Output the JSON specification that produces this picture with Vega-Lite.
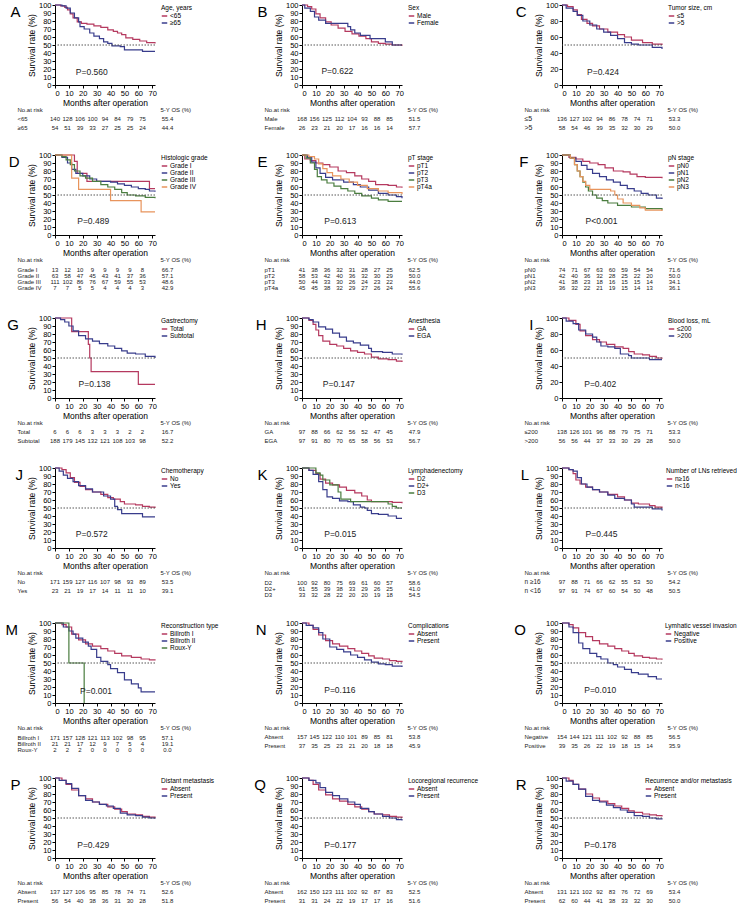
{
"$schema":"https://vega.github.io/schema/vega-lite/v6.json",
"background":"white",
"padding":{"left":5,"top":1,"right":0,"bottom":0},
"columns":3,
"align":"each",
"spacing":{"row":20,"column":35},
"resolve":{"scale":{"color":"independent","x":"independent","y":"independent"},"legend":{"color":"independent"}},
"datasets":{
"hdr":[{"key":"lab","r":0,"val":"No.at risk"},{"key":"os","r":0,"val":"5-Y OS (%)"}],
"curves":[
{"p":"A","g":"<65","t":[0,4,7,9,11,13,16,19,23,28,33,38,42,45,48,51,56,61,66,72],"s":[100,99,97,94,89,84,79,77,76,74,72,69,67,65,63,59,57,55,53,52]},
{"p":"A","g":"≥65","t":[0,5,8,11,14,17,18,21,25,28,32,35,38,41,47,50,62,63,72],"s":[100,99,96,90,84,79,73,70,65,61,58,54,52,49,48,44,44,42,42]},
{"p":"B","g":"Male","t":[0,4,7,10,13,17,21,26,31,36,41,46,50,55,60,65,72],"s":[100,98,95,89,84,79,75,71,67,64,61,58,54,52,51,50,49]},
{"p":"B","g":"Female","t":[0,2,6,9,12,17,26,33,35,38,42,49,55,60,65,72],"s":[100,96,92,85,81,77,77,73,69,65,62,58,58,54,50,50]},
{"p":"C","g":"≤5","t":[0,4,8,11,14,18,22,27,33,40,45,50,58,65,72],"s":[100,98,94,88,82,77,74,70,66,63,60,56,53,51,50]},
{"p":"C","g":">5","t":[0,3,8,11,15,20,25,30,35,40,45,50,55,62,65,72],"s":[100,96,92,87,80,75,70,66,62,58,53,51,50,50,47,45]},
{"p":"D","g":"Grade I","t":[0,14,16,23,68,72],"s":[100,92,77,67,58,58]},
{"p":"D","g":"Grade II","t":[0,5,9,12,15,20,25,30,40,45,50,55,60,65,68,72],"s":[100,97,90,82,77,74,70,67,66,64,62,60,58,57,55,54]},
{"p":"D","g":"Grade III","t":[0,5,8,11,14,18,22,27,33,38,43,48,52,58,65,72],"s":[100,98,94,88,80,74,71,67,63,60,57,53,50,49,47,46]},
{"p":"D","g":"Grade IV","t":[0,12,17,40,62,72],"s":[100,71,57,43,29,29]},
{"p":"E","g":"pT1","t":[0,2,6,10,15,20,26,32,38,43,48,53,62,68,72],"s":[100,95,93,90,88,85,80,78,74,70,67,63,62,60,59]},
{"p":"E","g":"pT2","t":[0,4,7,10,13,17,22,30,37,42,48,55,62,68,72],"s":[100,97,91,84,77,72,69,66,63,60,56,52,50,48,46]},
{"p":"E","g":"pT3","t":[0,3,6,9,11,14,18,23,28,33,38,43,50,55,62,72],"s":[100,96,90,82,73,69,65,61,58,55,52,49,46,44,42,42]},
{"p":"E","g":"pT4a","t":[0,5,9,12,15,18,22,28,34,40,47,55,62,72],"s":[100,98,95,89,83,78,74,70,66,62,58,55,53,51]},
{"p":"F","g":"pN0","t":[0,5,10,15,20,26,31,37,44,49,54,60,72],"s":[100,97,95,92,90,88,84,80,79,76,73,72,71]},
{"p":"F","g":"pN1","t":[0,6,10,14,18,22,27,32,37,42,47,52,57,62,68,72],"s":[100,96,92,87,82,77,73,69,66,62,58,55,52,50,46,45]},
{"p":"F","g":"pN2","t":[0,6,9,11,13,15,17,19,22,25,29,33,40,50,60,72],"s":[100,96,88,80,73,66,60,55,50,46,43,40,37,35,33,31]},
{"p":"F","g":"pN3","t":[0,6,9,11,13,15,17,20,35,38,40,44,50,56,60,72],"s":[100,96,88,80,73,67,62,57,55,50,45,40,37,34,31,30]},
{"p":"G","g":"Total","t":[0,12,24,25,26,60,72],"s":[100,83,67,50,33,17,17]},
{"p":"G","g":"Subtotal","t":[0,4,7,10,13,17,22,27,32,38,43,48,52,58,65,72],"s":[100,98,95,90,84,78,74,71,68,65,62,59,56,55,52,50]},
{"p":"H","g":"GA","t":[0,5,8,10,12,15,20,25,30,35,40,45,50,55,62,68,72],"s":[100,97,92,85,78,71,67,65,62,59,57,55,51,49,48,46,45]},
{"p":"H","g":"EGA","t":[0,5,8,12,17,22,27,32,37,42,48,50,58,65,72],"s":[100,98,95,89,86,81,76,71,69,66,62,58,57,55,54]},
{"p":"I","g":"≤200","t":[0,5,10,13,17,22,27,32,38,44,48,52,58,63,68,72],"s":[100,97,92,84,78,73,70,67,64,62,58,55,54,52,50,49]},
{"p":"I","g":">200","t":[0,3,8,12,17,22,25,28,33,38,42,48,50,60,63,72],"s":[100,96,93,85,80,76,70,65,64,62,55,53,50,50,48,48]},
{"p":"J","g":"No","t":[0,5,8,11,14,18,22,27,33,38,42,47,50,58,63,68,72],"s":[100,98,94,88,82,77,73,70,67,63,61,58,55,54,52,51,50]},
{"p":"J","g":"Yes","t":[0,3,6,9,13,17,22,27,35,40,43,45,48,62,63,72],"s":[100,96,91,87,83,78,74,70,65,61,52,48,43,43,39,39]},
{"p":"K","g":"D2","t":[0,5,10,13,17,22,27,32,38,43,47,50,60,65,72],"s":[100,97,93,86,81,79,76,72,69,65,60,58,58,57,56]},
{"p":"K","g":"D2+","t":[0,5,8,12,15,18,22,27,33,37,42,45,47,50,55,62,68,72],"s":[100,97,92,83,73,64,62,59,58,54,51,50,47,43,42,40,37,37]},
{"p":"K","g":"D3","t":[0,10,13,15,20,26,28,35,58,62,65,68,72],"s":[100,94,91,85,79,70,61,58,58,55,52,50,50]},
{"p":"L","g":"n≥16","t":[0,5,8,10,13,17,22,27,33,40,45,50,55,63,67,72],"s":[100,98,93,85,80,76,73,70,67,64,60,56,55,53,51,50]},
{"p":"L","g":"n<16","t":[0,5,8,11,14,18,22,27,33,38,45,50,52,60,65,72],"s":[100,98,96,88,80,76,73,70,66,62,60,55,51,51,49,47]},
{"p":"M","g":"Billroth I","t":[0,5,8,12,17,22,27,33,38,43,48,55,62,68,72],"s":[100,98,95,86,79,74,71,68,65,62,59,57,55,54,53]},
{"p":"M","g":"Billroth II","t":[0,6,10,13,15,20,24,26,30,33,38,40,45,50,55,60,62,72],"s":[100,95,90,86,81,76,71,67,57,52,48,43,38,29,24,19,14,14]},
{"p":"M","g":"Roux-Y","t":[0,10,21],"s":[100,50,0]},
{"p":"N","g":"Absent","t":[0,5,8,12,17,22,27,33,38,43,48,52,58,63,68,72],"s":[100,97,92,85,78,74,71,68,65,62,59,56,55,53,52,51]},
{"p":"N","g":"Present","t":[0,3,8,12,15,20,25,30,35,40,45,50,55,60,65,72],"s":[100,97,94,88,80,70,67,64,60,57,54,51,49,48,46,45]},
{"p":"O","g":"Negative","t":[0,5,8,12,17,22,27,33,38,43,48,52,58,63,68,72],"s":[100,98,94,88,83,78,74,71,68,65,62,59,57,56,55,54]},
{"p":"O","g":"Positive","t":[0,5,8,12,15,20,25,28,33,37,40,45,50,55,62,68,72],"s":[100,95,88,75,68,62,58,55,50,48,45,42,38,36,33,30,30]},
{"p":"P","g":"Absent","t":[0,5,8,12,17,22,27,32,38,43,48,52,58,63,68,72],"s":[100,97,92,85,78,74,70,67,64,61,58,55,54,52,51,50]},
{"p":"P","g":"Present","t":[0,3,8,12,17,22,27,32,37,42,47,52,58,63,68,72],"s":[100,97,93,87,78,72,70,67,65,62,56,54,53,51,50,49]},
{"p":"Q","g":"Absent","t":[0,5,8,12,17,22,27,33,38,43,48,52,58,63,68,72],"s":[100,97,92,85,79,74,71,67,64,61,58,55,54,52,51,50]},
{"p":"Q","g":"Present","t":[0,5,10,13,17,22,27,33,38,42,48,52,58,63,68,72],"s":[100,97,94,88,82,78,74,70,67,62,58,55,52,50,48,47]},
{"p":"R","g":"Absent","t":[0,5,8,12,17,22,27,33,38,43,48,52,58,63,68,72],"s":[100,97,92,86,80,75,71,68,65,62,59,57,55,54,53,52]},
{"p":"R","g":"Present","t":[0,3,8,12,17,22,27,32,37,42,47,52,58,63,68,72],"s":[100,96,92,86,77,72,70,66,63,60,57,53,52,50,49,48]}
],
"tables":[
{"p":"A","r":1,"lab":"<65","m0":140,"m10":128,"m20":106,"m30":100,"m40":94,"m50":84,"m60":79,"m70":75,"os":"55.4"},
{"p":"A","r":2,"lab":"≥65","m0":54,"m10":51,"m20":39,"m30":33,"m40":27,"m50":25,"m60":25,"m70":24,"os":"44.4"},
{"p":"B","r":1,"lab":"Male","m0":168,"m10":156,"m20":125,"m30":112,"m40":104,"m50":93,"m60":88,"m70":85,"os":"51.5"},
{"p":"B","r":2,"lab":"Female","m0":26,"m10":23,"m20":21,"m30":20,"m40":17,"m50":16,"m60":16,"m70":14,"os":"57.7"},
{"p":"C","r":1,"lab":"≤5","m0":136,"m10":127,"m20":102,"m30":94,"m40":86,"m50":78,"m60":74,"m70":71,"os":"53.3"},
{"p":"C","r":2,"lab":">5","m0":58,"m10":54,"m20":46,"m30":39,"m40":35,"m50":32,"m60":30,"m70":29,"os":"50.0"},
{"p":"D","r":1,"lab":"Grade I","m0":13,"m10":12,"m20":10,"m30":9,"m40":9,"m50":9,"m60":9,"m70":8,"os":"66.7"},
{"p":"D","r":2,"lab":"Grade II","m0":63,"m10":58,"m20":47,"m30":45,"m40":43,"m50":41,"m60":37,"m70":36,"os":"57.1"},
{"p":"D","r":3,"lab":"Grade III","m0":111,"m10":102,"m20":86,"m30":76,"m40":67,"m50":59,"m60":55,"m70":53,"os":"48.6"},
{"p":"D","r":4,"lab":"Grade IV","m0":7,"m10":7,"m20":5,"m30":5,"m40":4,"m50":4,"m60":4,"m70":3,"os":"42.9"},
{"p":"E","r":1,"lab":"pT1","m0":41,"m10":38,"m20":36,"m30":32,"m40":31,"m50":28,"m60":27,"m70":25,"os":"62.5"},
{"p":"E","r":2,"lab":"pT2","m0":58,"m10":53,"m20":42,"m30":40,"m40":36,"m50":32,"m60":30,"m70":29,"os":"50.0"},
{"p":"E","r":3,"lab":"pT3","m0":50,"m10":44,"m20":33,"m30":30,"m40":26,"m50":24,"m60":23,"m70":22,"os":"44.0"},
{"p":"E","r":4,"lab":"pT4a","m0":45,"m10":45,"m20":38,"m30":32,"m40":29,"m50":27,"m60":26,"m70":24,"os":"55.6"},
{"p":"F","r":1,"lab":"pN0","m0":74,"m10":71,"m20":67,"m30":63,"m40":60,"m50":59,"m60":54,"m70":54,"os":"71.6"},
{"p":"F","r":2,"lab":"pN1","m0":42,"m10":40,"m20":36,"m30":32,"m40":28,"m50":25,"m60":22,"m70":20,"os":"50.0"},
{"p":"F","r":3,"lab":"pN2","m0":41,"m10":38,"m20":23,"m30":18,"m40":16,"m50":15,"m60":15,"m70":14,"os":"34.1"},
{"p":"F","r":4,"lab":"pN3","m0":36,"m10":32,"m20":22,"m30":21,"m40":19,"m50":15,"m60":14,"m70":13,"os":"36.1"},
{"p":"G","r":1,"lab":"Total","m0":6,"m10":6,"m20":6,"m30":3,"m40":3,"m50":3,"m60":2,"m70":2,"os":"16.7"},
{"p":"G","r":2,"lab":"Subtotal","m0":188,"m10":179,"m20":145,"m30":132,"m40":121,"m50":108,"m60":103,"m70":98,"os":"52.2"},
{"p":"H","r":1,"lab":"GA","m0":97,"m10":88,"m20":66,"m30":62,"m40":56,"m50":52,"m60":47,"m70":45,"os":"47.9"},
{"p":"H","r":2,"lab":"EGA","m0":97,"m10":91,"m20":80,"m30":70,"m40":65,"m50":58,"m60":56,"m70":53,"os":"56.7"},
{"p":"I","r":1,"lab":"≤200","m0":138,"m10":126,"m20":101,"m30":96,"m40":88,"m50":79,"m60":75,"m70":71,"os":"53.3"},
{"p":"I","r":2,"lab":">200","m0":56,"m10":56,"m20":44,"m30":37,"m40":33,"m50":30,"m60":29,"m70":28,"os":"50.0"},
{"p":"J","r":1,"lab":"No","m0":171,"m10":159,"m20":127,"m30":116,"m40":107,"m50":98,"m60":93,"m70":89,"os":"53.5"},
{"p":"J","r":2,"lab":"Yes","m0":23,"m10":21,"m20":19,"m30":17,"m40":14,"m50":11,"m60":11,"m70":10,"os":"39.1"},
{"p":"K","r":1,"lab":"D2","m0":100,"m10":92,"m20":80,"m30":75,"m40":69,"m50":61,"m60":60,"m70":57,"os":"58.6"},
{"p":"K","r":2,"lab":"D2+","m0":61,"m10":55,"m20":39,"m30":38,"m40":33,"m50":29,"m60":26,"m70":25,"os":"41.0"},
{"p":"K","r":3,"lab":"D3","m0":33,"m10":32,"m20":28,"m30":22,"m40":20,"m50":20,"m60":19,"m70":18,"os":"54.5"},
{"p":"L","r":1,"lab":"n ≥16","m0":97,"m10":88,"m20":71,"m30":66,"m40":62,"m50":55,"m60":53,"m70":50,"os":"54.2"},
{"p":"L","r":2,"lab":"n <16","m0":97,"m10":91,"m20":74,"m30":67,"m40":60,"m50":54,"m60":50,"m70":48,"os":"50.5"},
{"p":"M","r":1,"lab":"Billroth I","m0":171,"m10":157,"m20":128,"m30":121,"m40":113,"m50":102,"m60":98,"m70":95,"os":"57.1"},
{"p":"M","r":2,"lab":"Billroth II","m0":21,"m10":21,"m20":17,"m30":12,"m40":9,"m50":7,"m60":5,"m70":4,"os":"19.1"},
{"p":"M","r":3,"lab":"Roux-Y","m0":2,"m10":2,"m20":2,"m30":0,"m40":0,"m50":0,"m60":0,"m70":0,"os":"0.0"},
{"p":"N","r":1,"lab":"Absent","m0":157,"m10":145,"m20":122,"m30":110,"m40":101,"m50":89,"m60":85,"m70":81,"os":"53.8"},
{"p":"N","r":2,"lab":"Present","m0":37,"m10":35,"m20":25,"m30":23,"m40":21,"m50":20,"m60":18,"m70":18,"os":"45.9"},
{"p":"O","r":1,"lab":"Negative","m0":154,"m10":144,"m20":121,"m30":111,"m40":102,"m50":92,"m60":88,"m70":85,"os":"56.5"},
{"p":"O","r":2,"lab":"Positive","m0":39,"m10":35,"m20":26,"m30":22,"m40":19,"m50":18,"m60":15,"m70":14,"os":"35.9"},
{"p":"P","r":1,"lab":"Absent","m0":137,"m10":127,"m20":106,"m30":95,"m40":85,"m50":78,"m60":74,"m70":71,"os":"52.6"},
{"p":"P","r":2,"lab":"Present","m0":56,"m10":54,"m20":40,"m30":38,"m40":36,"m50":31,"m60":30,"m70":28,"os":"51.8"},
{"p":"Q","r":1,"lab":"Absent","m0":162,"m10":150,"m20":123,"m30":111,"m40":102,"m50":92,"m60":87,"m70":83,"os":"52.5"},
{"p":"Q","r":2,"lab":"Present","m0":31,"m10":31,"m20":24,"m30":22,"m40":19,"m50":17,"m60":17,"m70":16,"os":"51.6"},
{"p":"R","r":1,"lab":"Absent","m0":131,"m10":121,"m20":102,"m30":92,"m40":83,"m50":76,"m60":72,"m70":69,"os":"53.4"},
{"p":"R","r":2,"lab":"Present","m0":62,"m10":60,"m20":44,"m30":41,"m40":38,"m50":33,"m60":32,"m70":30,"os":"50.0"}
]
},
"concat":[
{"spacing":0,"resolve":{"scale":{"color":"independent"},"legend":{"color":"independent"}},"vconcat":[
{"width":100,"height":80,"title":"A","layer":[
{"data":{"name":"curves"},"transform":[{"filter":"datum.p==='A'"},{"flatten":["t","s"]}],"mark":{"type":"line","interpolate":"step-after","strokeWidth":1.2},"encoding":{"x":{"field":"t","type":"quantitative","scale":{"domain":[0,72],"nice":false},"axis":{"tickCount":8,"title":"Months after operation"}},"y":{"field":"s","type":"quantitative","scale":{"domain":[0,100]},"axis":{"tickCount":10,"title":"Survival rate (%)"}},"color":{"field":"g","type":"nominal","scale":{"domain":["<65","≥65"],"range":["#b5395f","#383c8c","#4a7d3f","#e8945c"]},"legend":{"title":"Age, years"}}}},
{"data":{"values":[{}]},"mark":{"type":"rule","strokeDash":[1.5,1.5],"color":"#444","strokeWidth":0.9},"encoding":{"y":{"datum":50,"type":"quantitative"}}},
{"data":{"values":[{"pv":"P=0.560"}]},"mark":{"type":"text","align":"left","fontSize":8.5},"encoding":{"x":{"datum":15,"type":"quantitative"},"y":{"datum":16,"type":"quantitative"},"text":{"field":"pv"}}}
]},
{"width":100,"height":18,"encoding":{"x":{"field":"key","type":"ordinal","scale":{"type":"point","domain":["lab","d1","d2","m0","m10","m20","m30","m40","m50","m60","m70","d3","os"],"range":[-37.5,112.5],"padding":0},"axis":null},"y":{"field":"r","type":"quantitative","scale":{"domain":[0,2],"range":[0,18]},"axis":null},"text":{"field":"val","type":"nominal"}},"layer":[
{"data":{"name":"hdr"},"transform":[{"filter":"datum.key==='lab'"}],"mark":{"type":"text","align":"left","fontSize":6}},
{"data":{"name":"hdr"},"transform":[{"filter":"datum.key==='os'"}],"mark":{"type":"text","align":"left","fontSize":6,"dx":-7}},
{"data":{"name":"tables"},"transform":[{"filter":"datum.p==='A'"},{"fold":["lab"],"as":["key","val"]}],"mark":{"type":"text","align":"left","fontSize":6}},
{"data":{"name":"tables"},"transform":[{"filter":"datum.p==='A'"},{"fold":["m0","m10","m20","m30","m40","m50","m60","m70","os"],"as":["key","val"]}],"mark":{"type":"text","fontSize":6}}
]}
]},
{"spacing":0,"resolve":{"scale":{"color":"independent"},"legend":{"color":"independent"}},"vconcat":[
{"width":100,"height":80,"title":"B","layer":[
{"data":{"name":"curves"},"transform":[{"filter":"datum.p==='B'"},{"flatten":["t","s"]}],"mark":{"type":"line","interpolate":"step-after","strokeWidth":1.2},"encoding":{"x":{"field":"t","type":"quantitative","scale":{"domain":[0,72],"nice":false},"axis":{"tickCount":8,"title":"Months after operation"}},"y":{"field":"s","type":"quantitative","scale":{"domain":[0,100]},"axis":{"tickCount":10,"title":"Survival rate (%)"}},"color":{"field":"g","type":"nominal","scale":{"domain":["Male","Female"],"range":["#b5395f","#383c8c","#4a7d3f","#e8945c"]},"legend":{"title":"Sex"}}}},
{"data":{"values":[{}]},"mark":{"type":"rule","strokeDash":[1.5,1.5],"color":"#444","strokeWidth":0.9},"encoding":{"y":{"datum":50,"type":"quantitative"}}},
{"data":{"values":[{"pv":"P=0.622"}]},"mark":{"type":"text","align":"left","fontSize":8.5},"encoding":{"x":{"datum":14,"type":"quantitative"},"y":{"datum":17,"type":"quantitative"},"text":{"field":"pv"}}}
]},
{"width":100,"height":18,"encoding":{"x":{"field":"key","type":"ordinal","scale":{"type":"point","domain":["lab","d1","d2","m0","m10","m20","m30","m40","m50","m60","m70","d3","os"],"range":[-37.5,112.5],"padding":0},"axis":null},"y":{"field":"r","type":"quantitative","scale":{"domain":[0,2],"range":[0,18]},"axis":null},"text":{"field":"val","type":"nominal"}},"layer":[
{"data":{"name":"hdr"},"transform":[{"filter":"datum.key==='lab'"}],"mark":{"type":"text","align":"left","fontSize":6}},
{"data":{"name":"hdr"},"transform":[{"filter":"datum.key==='os'"}],"mark":{"type":"text","align":"left","fontSize":6,"dx":-7}},
{"data":{"name":"tables"},"transform":[{"filter":"datum.p==='B'"},{"fold":["lab"],"as":["key","val"]}],"mark":{"type":"text","align":"left","fontSize":6}},
{"data":{"name":"tables"},"transform":[{"filter":"datum.p==='B'"},{"fold":["m0","m10","m20","m30","m40","m50","m60","m70","os"],"as":["key","val"]}],"mark":{"type":"text","fontSize":6}}
]}
]},
{"spacing":0,"resolve":{"scale":{"color":"independent"},"legend":{"color":"independent"}},"vconcat":[
{"width":100,"height":80,"title":"C","layer":[
{"data":{"name":"curves"},"transform":[{"filter":"datum.p==='C'"},{"flatten":["t","s"]}],"mark":{"type":"line","interpolate":"step-after","strokeWidth":1.2},"encoding":{"x":{"field":"t","type":"quantitative","scale":{"domain":[0,72],"nice":false},"axis":{"tickCount":8,"title":"Months after operation"}},"y":{"field":"s","type":"quantitative","scale":{"domain":[0,100]},"axis":{"tickCount":5,"title":"Survival rate (%)"}},"color":{"field":"g","type":"nominal","scale":{"domain":["≤5",">5"],"range":["#b5395f","#383c8c","#4a7d3f","#e8945c"]},"legend":{"title":"Tumor size, cm"}}}},
{"data":{"values":[{}]},"mark":{"type":"rule","strokeDash":[1.5,1.5],"color":"#444","strokeWidth":0.9},"encoding":{"y":{"datum":50,"type":"quantitative"}}},
{"data":{"values":[{"pv":"P=0.424"}]},"mark":{"type":"text","align":"left","fontSize":8.5},"encoding":{"x":{"datum":18,"type":"quantitative"},"y":{"datum":16,"type":"quantitative"},"text":{"field":"pv"}}}
]},
{"width":100,"height":18,"encoding":{"x":{"field":"key","type":"ordinal","scale":{"type":"point","domain":["lab","d1","d2","m0","m10","m20","m30","m40","m50","m60","m70","d3","os"],"range":[-37.5,112.5],"padding":0},"axis":null},"y":{"field":"r","type":"quantitative","scale":{"domain":[0,2],"range":[0,18]},"axis":null},"text":{"field":"val","type":"nominal"}},"layer":[
{"data":{"name":"hdr"},"transform":[{"filter":"datum.key==='lab'"}],"mark":{"type":"text","align":"left","fontSize":6}},
{"data":{"name":"hdr"},"transform":[{"filter":"datum.key==='os'"}],"mark":{"type":"text","align":"left","fontSize":6,"dx":-7}},
{"data":{"name":"tables"},"transform":[{"filter":"datum.p==='C'"},{"fold":["lab"],"as":["key","val"]}],"mark":{"type":"text","align":"left","fontSize":7}},
{"data":{"name":"tables"},"transform":[{"filter":"datum.p==='C'"},{"fold":["m0","m10","m20","m30","m40","m50","m60","m70","os"],"as":["key","val"]}],"mark":{"type":"text","fontSize":6}}
]}
]},
{"spacing":0,"resolve":{"scale":{"color":"independent"},"legend":{"color":"independent"}},"vconcat":[
{"width":100,"height":80,"title":"D","layer":[
{"data":{"name":"curves"},"transform":[{"filter":"datum.p==='D'"},{"flatten":["t","s"]}],"mark":{"type":"line","interpolate":"step-after","strokeWidth":1.2},"encoding":{"x":{"field":"t","type":"quantitative","scale":{"domain":[0,72],"nice":false},"axis":{"tickCount":8,"title":"Months after operation"}},"y":{"field":"s","type":"quantitative","scale":{"domain":[0,100]},"axis":{"tickCount":10,"title":"Survival rate (%)"}},"color":{"field":"g","type":"nominal","scale":{"domain":["Grade I","Grade II","Grade III","Grade IV"],"range":["#b5395f","#383c8c","#4a7d3f","#e8945c"]},"legend":{"title":"Histologic grade"}}}},
{"data":{"values":[{}]},"mark":{"type":"rule","strokeDash":[1.5,1.5],"color":"#444","strokeWidth":0.9},"encoding":{"y":{"datum":50,"type":"quantitative"}}},
{"data":{"values":[{"pv":"P=0.489"}]},"mark":{"type":"text","align":"left","fontSize":8.5},"encoding":{"x":{"datum":16,"type":"quantitative"},"y":{"datum":17,"type":"quantitative"},"text":{"field":"pv"}}}
]},
{"width":100,"height":30,"encoding":{"x":{"field":"key","type":"ordinal","scale":{"type":"point","domain":["lab","d1","d2","m0","m10","m20","m30","m40","m50","m60","m70","d3","os"],"range":[-37.5,112.5],"padding":0},"axis":null},"y":{"field":"r","type":"quantitative","scale":{"domain":[0,4],"range":[0,24]},"axis":null},"text":{"field":"val","type":"nominal"}},"layer":[
{"data":{"name":"hdr"},"transform":[{"filter":"datum.key==='lab'"}],"mark":{"type":"text","align":"left","fontSize":6},"encoding":{"y":{"datum":-0.6,"type":"quantitative"}}},
{"data":{"name":"hdr"},"transform":[{"filter":"datum.key==='os'"}],"mark":{"type":"text","align":"left","fontSize":6,"dx":-7},"encoding":{"y":{"datum":-0.6,"type":"quantitative"}}},
{"data":{"name":"tables"},"transform":[{"filter":"datum.p==='D'"},{"fold":["lab"],"as":["key","val"]}],"mark":{"type":"text","align":"left","fontSize":6}},
{"data":{"name":"tables"},"transform":[{"filter":"datum.p==='D'"},{"fold":["m0","m10","m20","m30","m40","m50","m60","m70","os"],"as":["key","val"]}],"mark":{"type":"text","fontSize":6}}
]}
]},
{"spacing":0,"resolve":{"scale":{"color":"independent"},"legend":{"color":"independent"}},"vconcat":[
{"width":100,"height":80,"title":"E","layer":[
{"data":{"name":"curves"},"transform":[{"filter":"datum.p==='E'"},{"flatten":["t","s"]}],"mark":{"type":"line","interpolate":"step-after","strokeWidth":1.2},"encoding":{"x":{"field":"t","type":"quantitative","scale":{"domain":[0,72],"nice":false},"axis":{"tickCount":8,"title":"Months after operation"}},"y":{"field":"s","type":"quantitative","scale":{"domain":[0,100]},"axis":{"tickCount":10,"title":"Survival rate (%)"}},"color":{"field":"g","type":"nominal","scale":{"domain":["pT1","pT2","pT3","pT4a"],"range":["#b5395f","#383c8c","#4a7d3f","#e8945c"]},"legend":{"title":"pT stage"}}}},
{"data":{"values":[{}]},"mark":{"type":"rule","strokeDash":[1.5,1.5],"color":"#444","strokeWidth":0.9},"encoding":{"y":{"datum":50,"type":"quantitative"}}},
{"data":{"values":[{"pv":"P=0.613"}]},"mark":{"type":"text","align":"left","fontSize":8.5},"encoding":{"x":{"datum":16,"type":"quantitative"},"y":{"datum":17,"type":"quantitative"},"text":{"field":"pv"}}}
]},
{"width":100,"height":30,"encoding":{"x":{"field":"key","type":"ordinal","scale":{"type":"point","domain":["lab","d1","d2","m0","m10","m20","m30","m40","m50","m60","m70","d3","os"],"range":[-37.5,112.5],"padding":0},"axis":null},"y":{"field":"r","type":"quantitative","scale":{"domain":[0,4],"range":[0,24]},"axis":null},"text":{"field":"val","type":"nominal"}},"layer":[
{"data":{"name":"hdr"},"transform":[{"filter":"datum.key==='lab'"}],"mark":{"type":"text","align":"left","fontSize":6},"encoding":{"y":{"datum":-0.6,"type":"quantitative"}}},
{"data":{"name":"hdr"},"transform":[{"filter":"datum.key==='os'"}],"mark":{"type":"text","align":"left","fontSize":6,"dx":-7},"encoding":{"y":{"datum":-0.6,"type":"quantitative"}}},
{"data":{"name":"tables"},"transform":[{"filter":"datum.p==='E'"},{"fold":["lab"],"as":["key","val"]}],"mark":{"type":"text","align":"left","fontSize":6}},
{"data":{"name":"tables"},"transform":[{"filter":"datum.p==='E'"},{"fold":["m0","m10","m20","m30","m40","m50","m60","m70","os"],"as":["key","val"]}],"mark":{"type":"text","fontSize":6}}
]}
]},
{"spacing":0,"resolve":{"scale":{"color":"independent"},"legend":{"color":"independent"}},"vconcat":[
{"width":100,"height":80,"title":"F","layer":[
{"data":{"name":"curves"},"transform":[{"filter":"datum.p==='F'"},{"flatten":["t","s"]}],"mark":{"type":"line","interpolate":"step-after","strokeWidth":1.2},"encoding":{"x":{"field":"t","type":"quantitative","scale":{"domain":[0,72],"nice":false},"axis":{"tickCount":8,"title":"Months after operation"}},"y":{"field":"s","type":"quantitative","scale":{"domain":[0,100]},"axis":{"tickCount":10,"title":"Survival rate (%)"}},"color":{"field":"g","type":"nominal","scale":{"domain":["pN0","pN1","pN2","pN3"],"range":["#b5395f","#383c8c","#4a7d3f","#e8945c"]},"legend":{"title":"pN stage"}}}},
{"data":{"values":[{}]},"mark":{"type":"rule","strokeDash":[1.5,1.5],"color":"#444","strokeWidth":0.9},"encoding":{"y":{"datum":50,"type":"quantitative"}}},
{"data":{"values":[{"pv":"P<0.001"}]},"mark":{"type":"text","align":"left","fontSize":8.5},"encoding":{"x":{"datum":17,"type":"quantitative"},"y":{"datum":17,"type":"quantitative"},"text":{"field":"pv"}}}
]},
{"width":100,"height":30,"encoding":{"x":{"field":"key","type":"ordinal","scale":{"type":"point","domain":["lab","d1","d2","m0","m10","m20","m30","m40","m50","m60","m70","d3","os"],"range":[-37.5,112.5],"padding":0},"axis":null},"y":{"field":"r","type":"quantitative","scale":{"domain":[0,4],"range":[0,24]},"axis":null},"text":{"field":"val","type":"nominal"}},"layer":[
{"data":{"name":"hdr"},"transform":[{"filter":"datum.key==='lab'"}],"mark":{"type":"text","align":"left","fontSize":6},"encoding":{"y":{"datum":-0.6,"type":"quantitative"}}},
{"data":{"name":"hdr"},"transform":[{"filter":"datum.key==='os'"}],"mark":{"type":"text","align":"left","fontSize":6,"dx":-7},"encoding":{"y":{"datum":-0.6,"type":"quantitative"}}},
{"data":{"name":"tables"},"transform":[{"filter":"datum.p==='F'"},{"fold":["lab"],"as":["key","val"]}],"mark":{"type":"text","align":"left","fontSize":6}},
{"data":{"name":"tables"},"transform":[{"filter":"datum.p==='F'"},{"fold":["m0","m10","m20","m30","m40","m50","m60","m70","os"],"as":["key","val"]}],"mark":{"type":"text","fontSize":6}}
]}
]},
{"spacing":0,"resolve":{"scale":{"color":"independent"},"legend":{"color":"independent"}},"vconcat":[
{"width":100,"height":80,"title":"G","layer":[
{"data":{"name":"curves"},"transform":[{"filter":"datum.p==='G'"},{"flatten":["t","s"]}],"mark":{"type":"line","interpolate":"step-after","strokeWidth":1.2},"encoding":{"x":{"field":"t","type":"quantitative","scale":{"domain":[0,72],"nice":false},"axis":{"tickCount":8,"title":"Months after operation"}},"y":{"field":"s","type":"quantitative","scale":{"domain":[0,100]},"axis":{"tickCount":10,"title":"Survival rate (%)"}},"color":{"field":"g","type":"nominal","scale":{"domain":["Total","Subtotal"],"range":["#b5395f","#383c8c","#4a7d3f","#e8945c"]},"legend":{"title":"Gastrectomy"}}}},
{"data":{"values":[{}]},"mark":{"type":"rule","strokeDash":[1.5,1.5],"color":"#444","strokeWidth":0.9},"encoding":{"y":{"datum":50,"type":"quantitative"}}},
{"data":{"values":[{"pv":"P=0.138"}]},"mark":{"type":"text","align":"left","fontSize":8.5},"encoding":{"x":{"datum":17,"type":"quantitative"},"y":{"datum":17,"type":"quantitative"},"text":{"field":"pv"}}}
]},
{"width":100,"height":18,"encoding":{"x":{"field":"key","type":"ordinal","scale":{"type":"point","domain":["lab","d1","d2","m0","m10","m20","m30","m40","m50","m60","m70","d3","os"],"range":[-37.5,112.5],"padding":0},"axis":null},"y":{"field":"r","type":"quantitative","scale":{"domain":[0,2],"range":[0,18]},"axis":null},"text":{"field":"val","type":"nominal"}},"layer":[
{"data":{"name":"hdr"},"transform":[{"filter":"datum.key==='lab'"}],"mark":{"type":"text","align":"left","fontSize":6}},
{"data":{"name":"hdr"},"transform":[{"filter":"datum.key==='os'"}],"mark":{"type":"text","align":"left","fontSize":6,"dx":-7}},
{"data":{"name":"tables"},"transform":[{"filter":"datum.p==='G'"},{"fold":["lab"],"as":["key","val"]}],"mark":{"type":"text","align":"left","fontSize":6}},
{"data":{"name":"tables"},"transform":[{"filter":"datum.p==='G'"},{"fold":["m0","m10","m20","m30","m40","m50","m60","m70","os"],"as":["key","val"]}],"mark":{"type":"text","fontSize":6}}
]}
]},
{"spacing":0,"resolve":{"scale":{"color":"independent"},"legend":{"color":"independent"}},"vconcat":[
{"width":100,"height":80,"title":"H","layer":[
{"data":{"name":"curves"},"transform":[{"filter":"datum.p==='H'"},{"flatten":["t","s"]}],"mark":{"type":"line","interpolate":"step-after","strokeWidth":1.2},"encoding":{"x":{"field":"t","type":"quantitative","scale":{"domain":[0,72],"nice":false},"axis":{"tickCount":8,"title":"Months after operation"}},"y":{"field":"s","type":"quantitative","scale":{"domain":[0,100]},"axis":{"tickCount":10,"title":"Survival rate (%)"}},"color":{"field":"g","type":"nominal","scale":{"domain":["GA","EGA"],"range":["#b5395f","#383c8c","#4a7d3f","#e8945c"]},"legend":{"title":"Anesthesia"}}}},
{"data":{"values":[{}]},"mark":{"type":"rule","strokeDash":[1.5,1.5],"color":"#444","strokeWidth":0.9},"encoding":{"y":{"datum":50,"type":"quantitative"}}},
{"data":{"values":[{"pv":"P=0.147"}]},"mark":{"type":"text","align":"left","fontSize":8.5},"encoding":{"x":{"datum":15,"type":"quantitative"},"y":{"datum":17,"type":"quantitative"},"text":{"field":"pv"}}}
]},
{"width":100,"height":18,"encoding":{"x":{"field":"key","type":"ordinal","scale":{"type":"point","domain":["lab","d1","d2","m0","m10","m20","m30","m40","m50","m60","m70","d3","os"],"range":[-37.5,112.5],"padding":0},"axis":null},"y":{"field":"r","type":"quantitative","scale":{"domain":[0,2],"range":[0,18]},"axis":null},"text":{"field":"val","type":"nominal"}},"layer":[
{"data":{"name":"hdr"},"transform":[{"filter":"datum.key==='lab'"}],"mark":{"type":"text","align":"left","fontSize":6}},
{"data":{"name":"hdr"},"transform":[{"filter":"datum.key==='os'"}],"mark":{"type":"text","align":"left","fontSize":6,"dx":-7}},
{"data":{"name":"tables"},"transform":[{"filter":"datum.p==='H'"},{"fold":["lab"],"as":["key","val"]}],"mark":{"type":"text","align":"left","fontSize":6}},
{"data":{"name":"tables"},"transform":[{"filter":"datum.p==='H'"},{"fold":["m0","m10","m20","m30","m40","m50","m60","m70","os"],"as":["key","val"]}],"mark":{"type":"text","fontSize":6}}
]}
]},
{"spacing":0,"resolve":{"scale":{"color":"independent"},"legend":{"color":"independent"}},"vconcat":[
{"width":100,"height":80,"title":"I","layer":[
{"data":{"name":"curves"},"transform":[{"filter":"datum.p==='I'"},{"flatten":["t","s"]}],"mark":{"type":"line","interpolate":"step-after","strokeWidth":1.2},"encoding":{"x":{"field":"t","type":"quantitative","scale":{"domain":[0,72],"nice":false},"axis":{"tickCount":8,"title":"Months after operation"}},"y":{"field":"s","type":"quantitative","scale":{"domain":[0,100]},"axis":{"tickCount":5,"title":"Survival rate (%)"}},"color":{"field":"g","type":"nominal","scale":{"domain":["≤200",">200"],"range":["#b5395f","#383c8c","#4a7d3f","#e8945c"]},"legend":{"title":"Blood loss, mL"}}}},
{"data":{"values":[{}]},"mark":{"type":"rule","strokeDash":[1.5,1.5],"color":"#444","strokeWidth":0.9},"encoding":{"y":{"datum":50,"type":"quantitative"}}},
{"data":{"values":[{"pv":"P=0.402"}]},"mark":{"type":"text","align":"left","fontSize":8.5},"encoding":{"x":{"datum":16,"type":"quantitative"},"y":{"datum":17,"type":"quantitative"},"text":{"field":"pv"}}}
]},
{"width":100,"height":18,"encoding":{"x":{"field":"key","type":"ordinal","scale":{"type":"point","domain":["lab","d1","d2","m0","m10","m20","m30","m40","m50","m60","m70","d3","os"],"range":[-37.5,112.5],"padding":0},"axis":null},"y":{"field":"r","type":"quantitative","scale":{"domain":[0,2],"range":[0,18]},"axis":null},"text":{"field":"val","type":"nominal"}},"layer":[
{"data":{"name":"hdr"},"transform":[{"filter":"datum.key==='lab'"}],"mark":{"type":"text","align":"left","fontSize":6}},
{"data":{"name":"hdr"},"transform":[{"filter":"datum.key==='os'"}],"mark":{"type":"text","align":"left","fontSize":6,"dx":-7}},
{"data":{"name":"tables"},"transform":[{"filter":"datum.p==='I'"},{"fold":["lab"],"as":["key","val"]}],"mark":{"type":"text","align":"left","fontSize":6}},
{"data":{"name":"tables"},"transform":[{"filter":"datum.p==='I'"},{"fold":["m0","m10","m20","m30","m40","m50","m60","m70","os"],"as":["key","val"]}],"mark":{"type":"text","fontSize":6}}
]}
]},
{"spacing":0,"resolve":{"scale":{"color":"independent"},"legend":{"color":"independent"}},"vconcat":[
{"width":100,"height":80,"title":"J","layer":[
{"data":{"name":"curves"},"transform":[{"filter":"datum.p==='J'"},{"flatten":["t","s"]}],"mark":{"type":"line","interpolate":"step-after","strokeWidth":1.2},"encoding":{"x":{"field":"t","type":"quantitative","scale":{"domain":[0,72],"nice":false},"axis":{"tickCount":8,"title":"Months after operation"}},"y":{"field":"s","type":"quantitative","scale":{"domain":[0,100]},"axis":{"tickCount":10,"title":"Survival rate (%)"}},"color":{"field":"g","type":"nominal","scale":{"domain":["No","Yes"],"range":["#b5395f","#383c8c","#4a7d3f","#e8945c"]},"legend":{"title":"Chemotherapy"}}}},
{"data":{"values":[{}]},"mark":{"type":"rule","strokeDash":[1.5,1.5],"color":"#444","strokeWidth":0.9},"encoding":{"y":{"datum":50,"type":"quantitative"}}},
{"data":{"values":[{"pv":"P=0.572"}]},"mark":{"type":"text","align":"left","fontSize":8.5},"encoding":{"x":{"datum":15,"type":"quantitative"},"y":{"datum":17,"type":"quantitative"},"text":{"field":"pv"}}}
]},
{"width":100,"height":18,"encoding":{"x":{"field":"key","type":"ordinal","scale":{"type":"point","domain":["lab","d1","d2","m0","m10","m20","m30","m40","m50","m60","m70","d3","os"],"range":[-37.5,112.5],"padding":0},"axis":null},"y":{"field":"r","type":"quantitative","scale":{"domain":[0,2],"range":[0,18]},"axis":null},"text":{"field":"val","type":"nominal"}},"layer":[
{"data":{"name":"hdr"},"transform":[{"filter":"datum.key==='lab'"}],"mark":{"type":"text","align":"left","fontSize":6}},
{"data":{"name":"hdr"},"transform":[{"filter":"datum.key==='os'"}],"mark":{"type":"text","align":"left","fontSize":6,"dx":-7}},
{"data":{"name":"tables"},"transform":[{"filter":"datum.p==='J'"},{"fold":["lab"],"as":["key","val"]}],"mark":{"type":"text","align":"left","fontSize":6}},
{"data":{"name":"tables"},"transform":[{"filter":"datum.p==='J'"},{"fold":["m0","m10","m20","m30","m40","m50","m60","m70","os"],"as":["key","val"]}],"mark":{"type":"text","fontSize":6}}
]}
]},
{"spacing":0,"resolve":{"scale":{"color":"independent"},"legend":{"color":"independent"}},"vconcat":[
{"width":100,"height":80,"title":"K","layer":[
{"data":{"name":"curves"},"transform":[{"filter":"datum.p==='K'"},{"flatten":["t","s"]}],"mark":{"type":"line","interpolate":"step-after","strokeWidth":1.2},"encoding":{"x":{"field":"t","type":"quantitative","scale":{"domain":[0,72],"nice":false},"axis":{"tickCount":8,"title":"Months after operation"}},"y":{"field":"s","type":"quantitative","scale":{"domain":[0,100]},"axis":{"tickCount":10,"title":"Survival rate (%)"}},"color":{"field":"g","type":"nominal","scale":{"domain":["D2","D2+","D3"],"range":["#b5395f","#383c8c","#4a7d3f","#e8945c"]},"legend":{"title":"Lymphadenectomy"}}}},
{"data":{"values":[{}]},"mark":{"type":"rule","strokeDash":[1.5,1.5],"color":"#444","strokeWidth":0.9},"encoding":{"y":{"datum":50,"type":"quantitative"}}},
{"data":{"values":[{"pv":"P=0.015"}]},"mark":{"type":"text","align":"left","fontSize":8.5},"encoding":{"x":{"datum":16,"type":"quantitative"},"y":{"datum":17,"type":"quantitative"},"text":{"field":"pv"}}}
]},
{"width":100,"height":22,"encoding":{"x":{"field":"key","type":"ordinal","scale":{"type":"point","domain":["lab","d1","d2","m0","m10","m20","m30","m40","m50","m60","m70","d3","os"],"range":[-37.5,112.5],"padding":0},"axis":null},"y":{"field":"r","type":"quantitative","scale":{"domain":[0,3],"range":[0,18]},"axis":null},"text":{"field":"val","type":"nominal"}},"layer":[
{"data":{"name":"hdr"},"transform":[{"filter":"datum.key==='lab'"}],"mark":{"type":"text","align":"left","fontSize":6},"encoding":{"y":{"datum":-0.6,"type":"quantitative"}}},
{"data":{"name":"hdr"},"transform":[{"filter":"datum.key==='os'"}],"mark":{"type":"text","align":"left","fontSize":6,"dx":-7},"encoding":{"y":{"datum":-0.6,"type":"quantitative"}}},
{"data":{"name":"tables"},"transform":[{"filter":"datum.p==='K'"},{"fold":["lab"],"as":["key","val"]}],"mark":{"type":"text","align":"left","fontSize":6}},
{"data":{"name":"tables"},"transform":[{"filter":"datum.p==='K'"},{"fold":["m0","m10","m20","m30","m40","m50","m60","m70","os"],"as":["key","val"]}],"mark":{"type":"text","fontSize":6}}
]}
]},
{"spacing":0,"resolve":{"scale":{"color":"independent"},"legend":{"color":"independent"}},"vconcat":[
{"width":100,"height":80,"title":"L","layer":[
{"data":{"name":"curves"},"transform":[{"filter":"datum.p==='L'"},{"flatten":["t","s"]}],"mark":{"type":"line","interpolate":"step-after","strokeWidth":1.2},"encoding":{"x":{"field":"t","type":"quantitative","scale":{"domain":[0,72],"nice":false},"axis":{"tickCount":8,"title":"Months after operation"}},"y":{"field":"s","type":"quantitative","scale":{"domain":[0,100]},"axis":{"tickCount":10,"title":"Survival rate (%)"}},"color":{"field":"g","type":"nominal","scale":{"domain":["n≥16","n<16"],"range":["#b5395f","#383c8c","#4a7d3f","#e8945c"]},"legend":{"title":"Number of LNs retrieved","offset":1}}}},
{"data":{"values":[{}]},"mark":{"type":"rule","strokeDash":[1.5,1.5],"color":"#444","strokeWidth":0.9},"encoding":{"y":{"datum":50,"type":"quantitative"}}},
{"data":{"values":[{"pv":"P=0.445"}]},"mark":{"type":"text","align":"left","fontSize":8.5},"encoding":{"x":{"datum":17,"type":"quantitative"},"y":{"datum":17,"type":"quantitative"},"text":{"field":"pv"}}}
]},
{"width":100,"height":18,"encoding":{"x":{"field":"key","type":"ordinal","scale":{"type":"point","domain":["lab","d1","d2","m0","m10","m20","m30","m40","m50","m60","m70","d3","os"],"range":[-37.5,112.5],"padding":0},"axis":null},"y":{"field":"r","type":"quantitative","scale":{"domain":[0,2],"range":[0,18]},"axis":null},"text":{"field":"val","type":"nominal"}},"layer":[
{"data":{"name":"hdr"},"transform":[{"filter":"datum.key==='lab'"}],"mark":{"type":"text","align":"left","fontSize":6}},
{"data":{"name":"hdr"},"transform":[{"filter":"datum.key==='os'"}],"mark":{"type":"text","align":"left","fontSize":6,"dx":-7}},
{"data":{"name":"tables"},"transform":[{"filter":"datum.p==='L'"},{"fold":["lab"],"as":["key","val"]}],"mark":{"type":"text","align":"left","fontSize":6.5}},
{"data":{"name":"tables"},"transform":[{"filter":"datum.p==='L'"},{"fold":["m0","m10","m20","m30","m40","m50","m60","m70","os"],"as":["key","val"]}],"mark":{"type":"text","fontSize":6}}
]}
]},
{"spacing":0,"resolve":{"scale":{"color":"independent"},"legend":{"color":"independent"}},"vconcat":[
{"width":100,"height":80,"title":"M","layer":[
{"data":{"name":"curves"},"transform":[{"filter":"datum.p==='M'"},{"flatten":["t","s"]}],"mark":{"type":"line","interpolate":"step-after","strokeWidth":1.2},"encoding":{"x":{"field":"t","type":"quantitative","scale":{"domain":[0,72],"nice":false},"axis":{"tickCount":8,"title":"Months after operation"}},"y":{"field":"s","type":"quantitative","scale":{"domain":[0,100]},"axis":{"tickCount":10,"title":"Survival rate (%)"}},"color":{"field":"g","type":"nominal","scale":{"domain":["Billroth I","Billroth II","Roux-Y"],"range":["#b5395f","#383c8c","#4a7d3f","#e8945c"]},"legend":{"title":"Reconstruction type"}}}},
{"data":{"values":[{}]},"mark":{"type":"rule","strokeDash":[1.5,1.5],"color":"#444","strokeWidth":0.9},"encoding":{"y":{"datum":50,"type":"quantitative"}}},
{"data":{"values":[{"pv":"P=0.001"}]},"mark":{"type":"text","align":"left","fontSize":8.5},"encoding":{"x":{"datum":18,"type":"quantitative"},"y":{"datum":15,"type":"quantitative"},"text":{"field":"pv"}}}
]},
{"width":100,"height":22,"encoding":{"x":{"field":"key","type":"ordinal","scale":{"type":"point","domain":["lab","d1","d2","m0","m10","m20","m30","m40","m50","m60","m70","d3","os"],"range":[-37.5,112.5],"padding":0},"axis":null},"y":{"field":"r","type":"quantitative","scale":{"domain":[0,3],"range":[0,18]},"axis":null},"text":{"field":"val","type":"nominal"}},"layer":[
{"data":{"name":"hdr"},"transform":[{"filter":"datum.key==='lab'"}],"mark":{"type":"text","align":"left","fontSize":6},"encoding":{"y":{"datum":-0.6,"type":"quantitative"}}},
{"data":{"name":"hdr"},"transform":[{"filter":"datum.key==='os'"}],"mark":{"type":"text","align":"left","fontSize":6,"dx":-7},"encoding":{"y":{"datum":-0.6,"type":"quantitative"}}},
{"data":{"name":"tables"},"transform":[{"filter":"datum.p==='M'"},{"fold":["lab"],"as":["key","val"]}],"mark":{"type":"text","align":"left","fontSize":6}},
{"data":{"name":"tables"},"transform":[{"filter":"datum.p==='M'"},{"fold":["m0","m10","m20","m30","m40","m50","m60","m70","os"],"as":["key","val"]}],"mark":{"type":"text","fontSize":6}}
]}
]},
{"spacing":0,"resolve":{"scale":{"color":"independent"},"legend":{"color":"independent"}},"vconcat":[
{"width":100,"height":80,"title":"N","layer":[
{"data":{"name":"curves"},"transform":[{"filter":"datum.p==='N'"},{"flatten":["t","s"]}],"mark":{"type":"line","interpolate":"step-after","strokeWidth":1.2},"encoding":{"x":{"field":"t","type":"quantitative","scale":{"domain":[0,72],"nice":false},"axis":{"tickCount":8,"title":"Months after operation"}},"y":{"field":"s","type":"quantitative","scale":{"domain":[0,100]},"axis":{"tickCount":10,"title":"Survival rate (%)"}},"color":{"field":"g","type":"nominal","scale":{"domain":["Absent","Present"],"range":["#b5395f","#383c8c","#4a7d3f","#e8945c"]},"legend":{"title":"Complications"}}}},
{"data":{"values":[{}]},"mark":{"type":"rule","strokeDash":[1.5,1.5],"color":"#444","strokeWidth":0.9},"encoding":{"y":{"datum":50,"type":"quantitative"}}},
{"data":{"values":[{"pv":"P=0.116"}]},"mark":{"type":"text","align":"left","fontSize":8.5},"encoding":{"x":{"datum":16,"type":"quantitative"},"y":{"datum":16,"type":"quantitative"},"text":{"field":"pv"}}}
]},
{"width":100,"height":18,"encoding":{"x":{"field":"key","type":"ordinal","scale":{"type":"point","domain":["lab","d1","d2","m0","m10","m20","m30","m40","m50","m60","m70","d3","os"],"range":[-37.5,112.5],"padding":0},"axis":null},"y":{"field":"r","type":"quantitative","scale":{"domain":[0,2],"range":[0,18]},"axis":null},"text":{"field":"val","type":"nominal"}},"layer":[
{"data":{"name":"hdr"},"transform":[{"filter":"datum.key==='lab'"}],"mark":{"type":"text","align":"left","fontSize":6}},
{"data":{"name":"hdr"},"transform":[{"filter":"datum.key==='os'"}],"mark":{"type":"text","align":"left","fontSize":6,"dx":-7}},
{"data":{"name":"tables"},"transform":[{"filter":"datum.p==='N'"},{"fold":["lab"],"as":["key","val"]}],"mark":{"type":"text","align":"left","fontSize":6}},
{"data":{"name":"tables"},"transform":[{"filter":"datum.p==='N'"},{"fold":["m0","m10","m20","m30","m40","m50","m60","m70","os"],"as":["key","val"]}],"mark":{"type":"text","fontSize":6}}
]}
]},
{"spacing":0,"resolve":{"scale":{"color":"independent"},"legend":{"color":"independent"}},"vconcat":[
{"width":100,"height":80,"title":"O","layer":[
{"data":{"name":"curves"},"transform":[{"filter":"datum.p==='O'"},{"flatten":["t","s"]}],"mark":{"type":"line","interpolate":"step-after","strokeWidth":1.2},"encoding":{"x":{"field":"t","type":"quantitative","scale":{"domain":[0,72],"nice":false},"axis":{"tickCount":8,"title":"Months after operation"}},"y":{"field":"s","type":"quantitative","scale":{"domain":[0,100]},"axis":{"tickCount":10,"title":"Survival rate (%)"}},"color":{"field":"g","type":"nominal","scale":{"domain":["Negative","Positive"],"range":["#b5395f","#383c8c","#4a7d3f","#e8945c"]},"legend":{"title":"Lymhatic vessel invasion","offset":0}}}},
{"data":{"values":[{}]},"mark":{"type":"rule","strokeDash":[1.5,1.5],"color":"#444","strokeWidth":0.9},"encoding":{"y":{"datum":50,"type":"quantitative"}}},
{"data":{"values":[{"pv":"P=0.010"}]},"mark":{"type":"text","align":"left","fontSize":8.5},"encoding":{"x":{"datum":16,"type":"quantitative"},"y":{"datum":16,"type":"quantitative"},"text":{"field":"pv"}}}
]},
{"width":100,"height":18,"encoding":{"x":{"field":"key","type":"ordinal","scale":{"type":"point","domain":["lab","d1","d2","m0","m10","m20","m30","m40","m50","m60","m70","d3","os"],"range":[-37.5,112.5],"padding":0},"axis":null},"y":{"field":"r","type":"quantitative","scale":{"domain":[0,2],"range":[0,18]},"axis":null},"text":{"field":"val","type":"nominal"}},"layer":[
{"data":{"name":"hdr"},"transform":[{"filter":"datum.key==='lab'"}],"mark":{"type":"text","align":"left","fontSize":6}},
{"data":{"name":"hdr"},"transform":[{"filter":"datum.key==='os'"}],"mark":{"type":"text","align":"left","fontSize":6,"dx":-7}},
{"data":{"name":"tables"},"transform":[{"filter":"datum.p==='O'"},{"fold":["lab"],"as":["key","val"]}],"mark":{"type":"text","align":"left","fontSize":6}},
{"data":{"name":"tables"},"transform":[{"filter":"datum.p==='O'"},{"fold":["m0","m10","m20","m30","m40","m50","m60","m70","os"],"as":["key","val"]}],"mark":{"type":"text","fontSize":6}}
]}
]},
{"spacing":0,"resolve":{"scale":{"color":"independent"},"legend":{"color":"independent"}},"vconcat":[
{"width":100,"height":80,"title":"P","layer":[
{"data":{"name":"curves"},"transform":[{"filter":"datum.p==='P'"},{"flatten":["t","s"]}],"mark":{"type":"line","interpolate":"step-after","strokeWidth":1.2},"encoding":{"x":{"field":"t","type":"quantitative","scale":{"domain":[0,72],"nice":false},"axis":{"tickCount":8,"title":"Months after operation"}},"y":{"field":"s","type":"quantitative","scale":{"domain":[0,100]},"axis":{"tickCount":10,"title":"Survival rate (%)"}},"color":{"field":"g","type":"nominal","scale":{"domain":["Absent","Present"],"range":["#b5395f","#383c8c","#4a7d3f","#e8945c"]},"legend":{"title":"Distant metastasis"}}}},
{"data":{"values":[{}]},"mark":{"type":"rule","strokeDash":[1.5,1.5],"color":"#444","strokeWidth":0.9},"encoding":{"y":{"datum":50,"type":"quantitative"}}},
{"data":{"values":[{"pv":"P=0.429"}]},"mark":{"type":"text","align":"left","fontSize":8.5},"encoding":{"x":{"datum":16,"type":"quantitative"},"y":{"datum":16,"type":"quantitative"},"text":{"field":"pv"}}}
]},
{"width":100,"height":18,"encoding":{"x":{"field":"key","type":"ordinal","scale":{"type":"point","domain":["lab","d1","d2","m0","m10","m20","m30","m40","m50","m60","m70","d3","os"],"range":[-37.5,112.5],"padding":0},"axis":null},"y":{"field":"r","type":"quantitative","scale":{"domain":[0,2],"range":[0,18]},"axis":null},"text":{"field":"val","type":"nominal"}},"layer":[
{"data":{"name":"hdr"},"transform":[{"filter":"datum.key==='lab'"}],"mark":{"type":"text","align":"left","fontSize":6}},
{"data":{"name":"hdr"},"transform":[{"filter":"datum.key==='os'"}],"mark":{"type":"text","align":"left","fontSize":6,"dx":-7}},
{"data":{"name":"tables"},"transform":[{"filter":"datum.p==='P'"},{"fold":["lab"],"as":["key","val"]}],"mark":{"type":"text","align":"left","fontSize":6}},
{"data":{"name":"tables"},"transform":[{"filter":"datum.p==='P'"},{"fold":["m0","m10","m20","m30","m40","m50","m60","m70","os"],"as":["key","val"]}],"mark":{"type":"text","fontSize":6}}
]}
]},
{"spacing":0,"resolve":{"scale":{"color":"independent"},"legend":{"color":"independent"}},"vconcat":[
{"width":100,"height":80,"title":"Q","layer":[
{"data":{"name":"curves"},"transform":[{"filter":"datum.p==='Q'"},{"flatten":["t","s"]}],"mark":{"type":"line","interpolate":"step-after","strokeWidth":1.2},"encoding":{"x":{"field":"t","type":"quantitative","scale":{"domain":[0,72],"nice":false},"axis":{"tickCount":8,"title":"Months after operation"}},"y":{"field":"s","type":"quantitative","scale":{"domain":[0,100]},"axis":{"tickCount":10,"title":"Survival rate (%)"}},"color":{"field":"g","type":"nominal","scale":{"domain":["Absent","Present"],"range":["#b5395f","#383c8c","#4a7d3f","#e8945c"]},"legend":{"title":"Locoregional recurrence"}}}},
{"data":{"values":[{}]},"mark":{"type":"rule","strokeDash":[1.5,1.5],"color":"#444","strokeWidth":0.9},"encoding":{"y":{"datum":50,"type":"quantitative"}}},
{"data":{"values":[{"pv":"P=0.177"}]},"mark":{"type":"text","align":"left","fontSize":8.5},"encoding":{"x":{"datum":16,"type":"quantitative"},"y":{"datum":16,"type":"quantitative"},"text":{"field":"pv"}}}
]},
{"width":100,"height":18,"encoding":{"x":{"field":"key","type":"ordinal","scale":{"type":"point","domain":["lab","d1","d2","m0","m10","m20","m30","m40","m50","m60","m70","d3","os"],"range":[-37.5,112.5],"padding":0},"axis":null},"y":{"field":"r","type":"quantitative","scale":{"domain":[0,2],"range":[0,18]},"axis":null},"text":{"field":"val","type":"nominal"}},"layer":[
{"data":{"name":"hdr"},"transform":[{"filter":"datum.key==='lab'"}],"mark":{"type":"text","align":"left","fontSize":6}},
{"data":{"name":"hdr"},"transform":[{"filter":"datum.key==='os'"}],"mark":{"type":"text","align":"left","fontSize":6,"dx":-7}},
{"data":{"name":"tables"},"transform":[{"filter":"datum.p==='Q'"},{"fold":["lab"],"as":["key","val"]}],"mark":{"type":"text","align":"left","fontSize":6}},
{"data":{"name":"tables"},"transform":[{"filter":"datum.p==='Q'"},{"fold":["m0","m10","m20","m30","m40","m50","m60","m70","os"],"as":["key","val"]}],"mark":{"type":"text","fontSize":6}}
]}
]},
{"spacing":0,"resolve":{"scale":{"color":"independent"},"legend":{"color":"independent"}},"vconcat":[
{"width":100,"height":80,"title":"R","layer":[
{"data":{"name":"curves"},"transform":[{"filter":"datum.p==='R'"},{"flatten":["t","s"]}],"mark":{"type":"line","interpolate":"step-after","strokeWidth":1.2},"encoding":{"x":{"field":"t","type":"quantitative","scale":{"domain":[0,72],"nice":false},"axis":{"tickCount":8,"title":"Months after operation"}},"y":{"field":"s","type":"quantitative","scale":{"domain":[0,100]},"axis":{"tickCount":10,"title":"Survival rate (%)"}},"color":{"field":"g","type":"nominal","scale":{"domain":["Absent","Present"],"range":["#b5395f","#383c8c","#4a7d3f","#e8945c"]},"legend":{"title":"Recurrence and/or metastasis","offset":-20}}}},
{"data":{"values":[{}]},"mark":{"type":"rule","strokeDash":[1.5,1.5],"color":"#444","strokeWidth":0.9},"encoding":{"y":{"datum":50,"type":"quantitative"}}},
{"data":{"values":[{"pv":"P=0.178"}]},"mark":{"type":"text","align":"left","fontSize":8.5},"encoding":{"x":{"datum":16,"type":"quantitative"},"y":{"datum":16,"type":"quantitative"},"text":{"field":"pv"}}}
]},
{"width":100,"height":18,"encoding":{"x":{"field":"key","type":"ordinal","scale":{"type":"point","domain":["lab","d1","d2","m0","m10","m20","m30","m40","m50","m60","m70","d3","os"],"range":[-37.5,112.5],"padding":0},"axis":null},"y":{"field":"r","type":"quantitative","scale":{"domain":[0,2],"range":[0,18]},"axis":null},"text":{"field":"val","type":"nominal"}},"layer":[
{"data":{"name":"hdr"},"transform":[{"filter":"datum.key==='lab'"}],"mark":{"type":"text","align":"left","fontSize":6}},
{"data":{"name":"hdr"},"transform":[{"filter":"datum.key==='os'"}],"mark":{"type":"text","align":"left","fontSize":6,"dx":-7}},
{"data":{"name":"tables"},"transform":[{"filter":"datum.p==='R'"},{"fold":["lab"],"as":["key","val"]}],"mark":{"type":"text","align":"left","fontSize":6}},
{"data":{"name":"tables"},"transform":[{"filter":"datum.p==='R'"},{"fold":["m0","m10","m20","m30","m40","m50","m60","m70","os"],"as":["key","val"]}],"mark":{"type":"text","fontSize":6}}
]}
]}
],
"config":{
"font":"Liberation Sans",
"view":{"stroke":null},
"axis":{"domainColor":"#000","tickColor":"#000","labelColor":"#000","titleColor":"#000","labelFontSize":7.5,"titleFontSize":8.5,"titleFontWeight":"normal","tickSize":3,"labelPadding":1,"titlePadding":2,"grid":false,"labelOverlap":false},
"legend":{"orient":"right","offset":3,"titleFontSize":6.5,"titleFontWeight":"normal","labelFontSize":6.5,"symbolType":"stroke","symbolSize":30,"symbolStrokeWidth":1.5,"rowPadding":0,"titlePadding":1,"labelOffset":2,"padding":0,"titleColor":"#000","labelColor":"#000"},
"title":{"fontSize":15,"fontWeight":"normal","orient":"left","angle":0,"anchor":"end","baseline":"top","align":"right","offset":-3,"frame":"group","color":"#000"},
"text":{"color":"#222"}
}
}
